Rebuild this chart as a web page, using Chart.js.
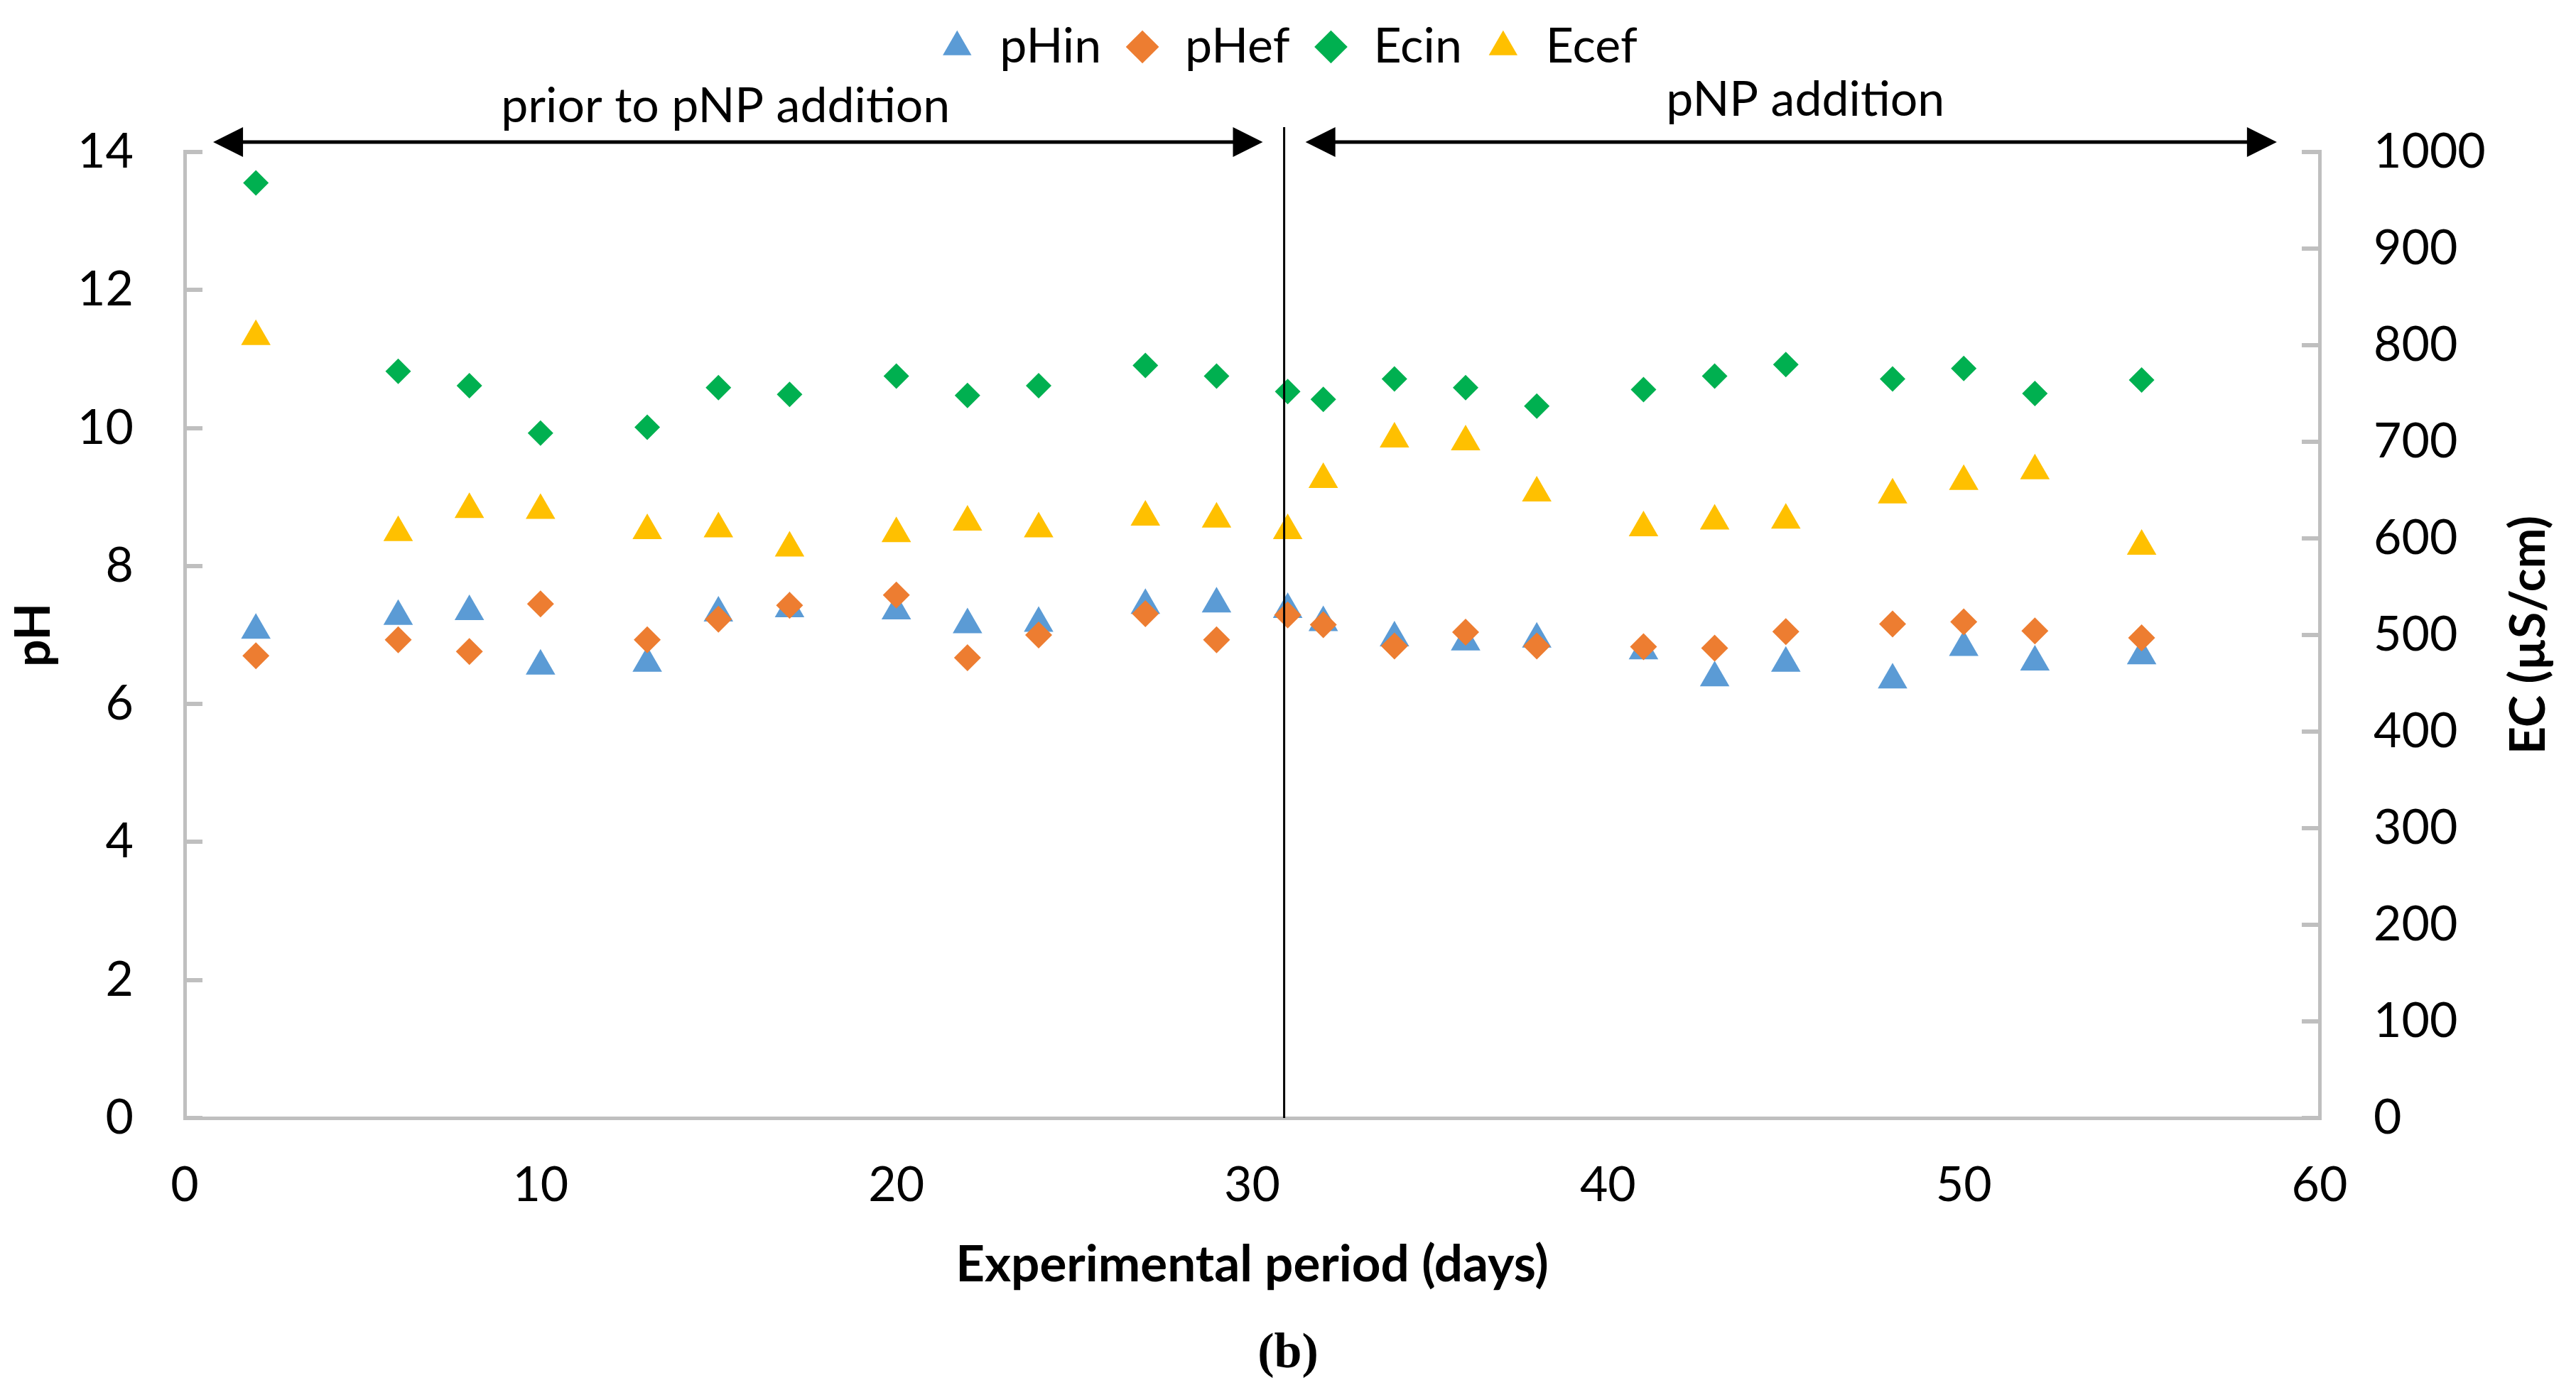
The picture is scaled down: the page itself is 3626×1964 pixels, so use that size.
<!DOCTYPE html>
<html>
<head>
<meta charset="utf-8">
<script src="https://cdn.jsdelivr.net/npm/chart.js@4.4.1/dist/chart.umd.min.js"></script>
<style>
  body { margin: 0; background: #fff; }
  #wrap { width: 3626px; height: 1964px; }
</style>
</head>
<body>
<div id="wrap"><canvas id="phChart" width="3626" height="1964"></canvas></div>
<script>
const days  = [2, 6, 8, 10, 13, 15, 17, 20, 22, 24, 27, 29, 31, 32, 34, 36, 38, 41, 43, 45, 48, 50, 52, 55];
const pHin  = [7.07, 7.27, 7.34, 6.55, 6.59, 7.32, 7.38, 7.35, 7.15, 7.17, 7.43, 7.45, 7.37, 7.18, 6.96, 6.90, 6.94, 6.77, 6.38, 6.59, 6.35, 6.82, 6.61, 6.70];
const pHef  = [6.70, 6.93, 6.76, 7.45, 6.93, 7.23, 7.43, 7.58, 6.67, 7.00, 7.31, 6.93, 7.29, 7.15, 6.84, 7.04, 6.84, 6.83, 6.81, 7.05, 7.16, 7.19, 7.06, 6.96];
const Ecin  = [968, 773, 758, 709, 715, 756, 749, 768, 748, 758, 779, 768, 752, 744, 765, 756, 737, 754, 768, 780, 765, 776, 750, 764];
const Ecef  = [809, 606, 630, 629, 608, 610, 590, 605, 617, 610, 622, 620, 608, 661, 703, 700, 647, 611, 618, 619, 645, 659, 670, 592];

const xTicks   = [0, 10, 20, 30, 40, 50, 60];
const pHTicks  = [0, 2, 4, 6, 8, 10, 12, 14];
const ecTicks  = [0, 100, 200, 300, 400, 500, 600, 700, 800, 900, 1000];

// period annotation (in days)
const pnpStart = 30.9;
const periods = [
  { from: 0.8,  to: 30.3, label: 'prior to pNP addition', mid: 15.2, rise: 42 },
  { from: 31.5, to: 58.8, label: 'pNP addition',          mid: 45.55, rise: 51 }
];

const AXIS_GREY = '#BFBFBF';
const FONT = 'Lato';

function points(vals) {
  return vals.map((v, i) => ({ x: days[i], y: v }));
}

function arrowHead(ctx, tipX, y, dir) {
  // dir = -1 points left, +1 points right
  ctx.beginPath();
  ctx.moveTo(tipX, y);
  ctx.lineTo(tipX - dir * 42, y - 21);
  ctx.lineTo(tipX - dir * 42, y + 21);
  ctx.closePath();
  ctx.fill();
}

const periodMarks = {
  id: 'periodMarks',
  afterDatasetsDraw(chart) {
    const { ctx, chartArea, scales } = chart;
    const x = scales.x;
    const y = chartArea.top - 14;
    ctx.save();
    ctx.strokeStyle = '#000';
    ctx.fillStyle = '#000';

    // divider line at pNP start
    ctx.lineWidth = 3;
    ctx.beginPath();
    ctx.moveTo(x.getPixelForValue(pnpStart), chartArea.top - 35);
    ctx.lineTo(x.getPixelForValue(pnpStart), chartArea.bottom);
    ctx.stroke();

    ctx.lineWidth = 5;
    ctx.font = '68px ' + FONT;
    ctx.textAlign = 'center';
    ctx.textBaseline = 'alphabetic';
    periods.forEach(p => {
      const x1 = x.getPixelForValue(p.from);
      const x2 = x.getPixelForValue(p.to);
      ctx.beginPath();
      ctx.moveTo(x1 + 30, y);
      ctx.lineTo(x2 - 30, y);
      ctx.stroke();
      arrowHead(ctx, x1, y, -1);
      arrowHead(ctx, x2, y, 1);
      ctx.fillText(p.label, x.getPixelForValue(p.mid), chartArea.top - p.rise);
    });
    ctx.restore();
  },
  afterDraw(chart) {
    // right axis title reads bottom-to-top like the left one
    const { ctx, chartArea, scales } = chart;
    ctx.save();
    ctx.translate(scales.y2.left + 295, (chartArea.top + chartArea.bottom) / 2);
    ctx.rotate(-Math.PI / 2);
    ctx.font = 'bold 68px ' + FONT;
    ctx.fillStyle = '#000';
    ctx.textAlign = 'center';
    ctx.textBaseline = 'middle';
    ctx.fillText('EC (µS/cm)', 0, 0);
    ctx.restore();
  }
};

Chart.defaults.color = '#000';
Chart.defaults.font.family = FONT;

const ctx = document.getElementById('phChart');

new Chart(ctx, {
  type: 'scatter',
  data: {
    datasets: [
      { label: 'pHin', data: points(pHin), yAxisID: 'y', order: 2,
        pointStyle: 'triangle', pointRadius: 24, backgroundColor: '#5B9BD5', borderColor: '#5B9BD5', borderWidth: 0 },
      { label: 'pHef', data: points(pHef), yAxisID: 'y', order: 1,
        pointStyle: 'rectRot', pointRadius: 19, backgroundColor: '#ED7D31', borderColor: '#ED7D31', borderWidth: 0 },
      { label: 'Ecin', data: points(Ecin), yAxisID: 'y2', order: 3,
        pointStyle: 'rectRot', pointRadius: 18, backgroundColor: '#00B050', borderColor: '#00B050', borderWidth: 0 },
      { label: 'Ecef', data: points(Ecef), yAxisID: 'y2', order: 4,
        pointStyle: 'triangle', pointRadius: 24, backgroundColor: '#FFC000', borderColor: '#FFC000', borderWidth: 0 }
    ]
  },
  options: {
    responsive: false,
    devicePixelRatio: 1,
    animation: false,
    layout: { padding: 0 },
    plugins: {
      legend: {
        position: 'top',
        labels: {
          usePointStyle: true,
          boxHeight: 33,
          boxWidth: 52,
          padding: 32,
          font: { size: 68 },
          sort: (a, b) => a.datasetIndex - b.datasetIndex
        }
      },
      subtitle: {
        // blank spacer between legend and plot, room for period arrows
        display: true,
        position: 'top',
        weight: 500,
        text: '',
        font: { size: 10 },
        padding: { top: 0, bottom: 92 }
      },
      title: {
        display: true,
        position: 'bottom',
        text: '(b)',
        font: { family: 'Liberation Serif', size: 70, weight: 'bold' },
        padding: { top: 0, bottom: 15 }
      },
      tooltip: { enabled: false }
    },
    scales: {
      x: {
        type: 'linear',
        min: 0, max: 60,
        afterFit: s => { s.height = 291; },
        afterBuildTicks: s => { s.ticks = xTicks.map(v => ({ value: v })); },
        grid: { display: false, drawTicks: false },
        border: { display: true, color: AXIS_GREY, width: 5 },
        ticks: { font: { size: 68 }, padding: 54, callback: v => String(v) },
        title: { display: true, text: 'Experimental period (days)',
                 font: { size: 71, weight: 'bold' }, padding: { top: 0, bottom: 41 } }
      },
      y: {
        position: 'left',
        min: 0, max: 14,
        afterFit: s => { s.width = 260; },
        afterBuildTicks: s => { s.ticks = pHTicks.map(v => ({ value: v })); },
        grid: { drawOnChartArea: false, drawTicks: true, tickLength: -25, color: AXIS_GREY, lineWidth: 6 },
        border: { display: true, color: AXIS_GREY, width: 5 },
        ticks: { font: { size: 68 }, padding: 97, callback: v => String(v) },
        title: { display: true, text: 'pH', font: { size: 68, weight: 'bold' }, padding: { top: 7, bottom: 0 } }
      },
      y2: {
        position: 'right',
        min: 0, max: 1000,
        afterFit: s => { s.width = 361; },
        afterBuildTicks: s => { s.ticks = ecTicks.map(v => ({ value: v })); },
        grid: { drawOnChartArea: false, drawTicks: true, tickLength: -25, color: AXIS_GREY, lineWidth: 6 },
        border: { display: true, color: AXIS_GREY, width: 5 },
        ticks: { font: { size: 68 }, padding: 101, callback: v => String(v) }
      }
    }
  },
  plugins: [periodMarks]
});
</script>
</body>
</html>
